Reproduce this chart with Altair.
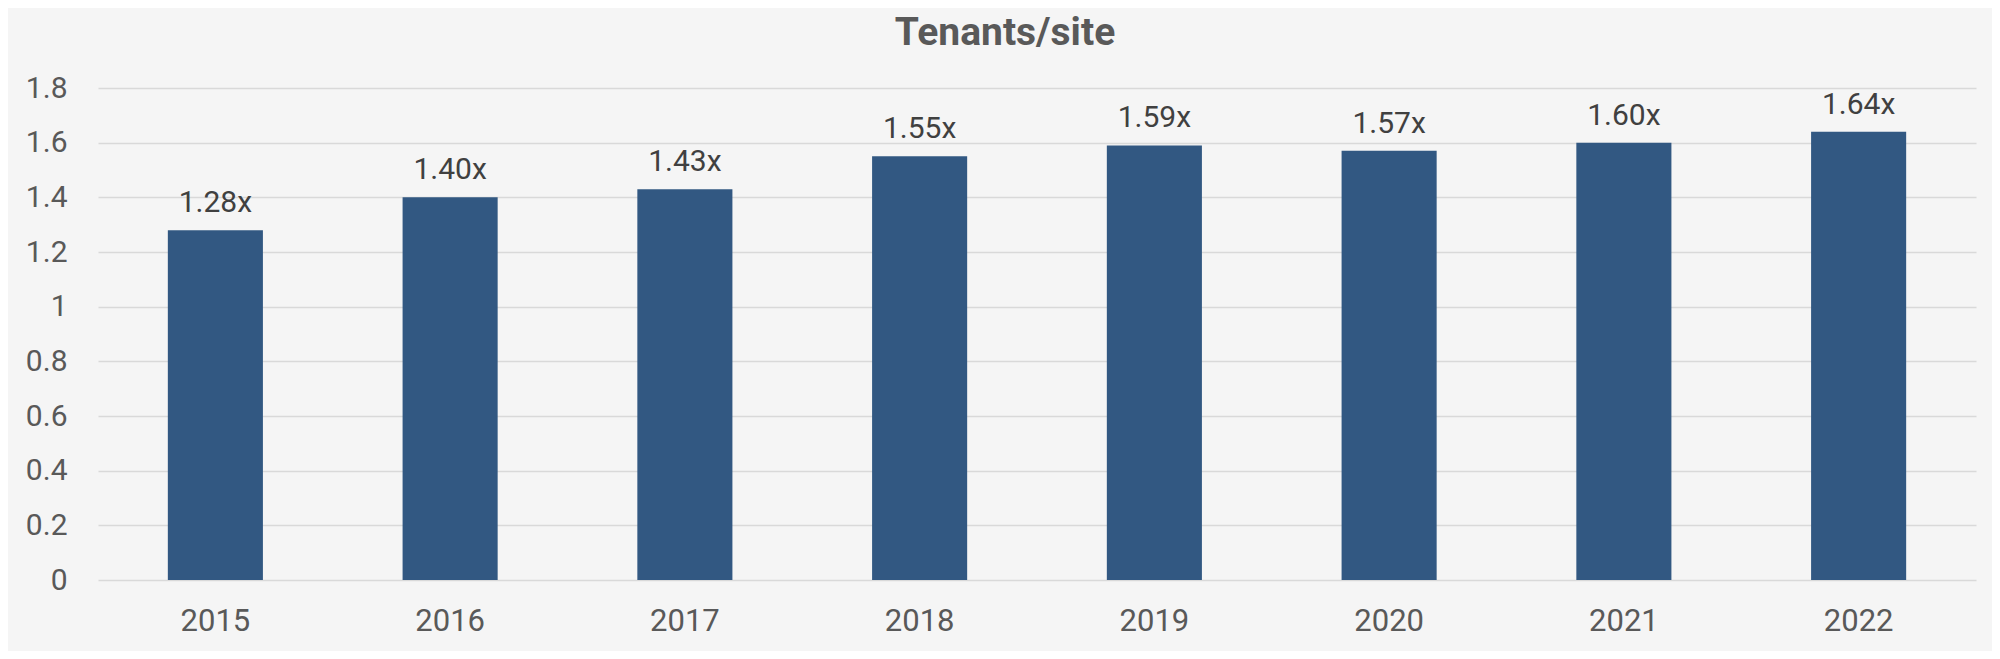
import altair as alt
import pandas as pd

years = ["2015", "2016", "2017", "2018", "2019", "2020", "2021", "2022"]
values = [1.28, 1.40, 1.43, 1.55, 1.59, 1.57, 1.60, 1.64]
y_ticks = [0, 0.2, 0.4, 0.6, 0.8, 1.0, 1.2, 1.4, 1.6, 1.8]

df = pd.DataFrame({"year": years, "value": values})

base = alt.Chart(df).encode(
    x=alt.X(
        "year:N",
        sort=years,
        title=None,
        scale=alt.Scale(paddingInner=0.595, paddingOuter=0.2975),
        axis=alt.Axis(
            labelAngle=0,
            labelFont="Roboto",
            labelFontSize=31,
            labelColor="#595959",
            labelPadding=26,
            ticks=False,
            tickSize=0,
            domain=False,
            grid=False,
        ),
    ),
    y=alt.Y(
        "value:Q",
        title=None,
        scale=alt.Scale(domain=[0, 1.8], nice=False),
        axis=alt.Axis(
            values=y_ticks,
            labelExpr="datum.value == 0 ? '0' : datum.value == 1 ? '1' : format(datum.value, '.1f')",
            labelFont="Roboto",
            labelFontSize=30,
            labelColor="#595959",
            labelPadding=31,
            ticks=False,
            tickSize=0,
            domain=False,
            grid=True,
            gridColor="#d9d9d9",
            gridWidth=1.3,
        ),
    ),
)

bars = base.mark_bar(color="#325882")

labels = base.transform_calculate(
    label="format(datum.value, '.2f') + 'x'"
).mark_text(
    font="Roboto",
    fontSize=30,
    color="#404040",
    baseline="alphabetic",
    align="center",
    dy=-18,
).encode(text="label:N")

chart = (
    alt.layer(bars, labels)
    .properties(
        width=1878,
        height=492,
        autosize=alt.AutoSizeParams(type="none"),
        padding={"left": 90, "top": 80, "right": 16, "bottom": 71},
        background="#f5f5f5",
        title=alt.Title(
            "Tenants/site",
            font="Roboto",
            fontSize=39,
            fontWeight="bold",
            color="#595959",
            anchor="middle",
            offset=20,
            dx=-32,
        ),
    )
    .configure_view(stroke=None)
)

chart.save("out.html", embed_options={"renderer": "svg", "actions": False})
